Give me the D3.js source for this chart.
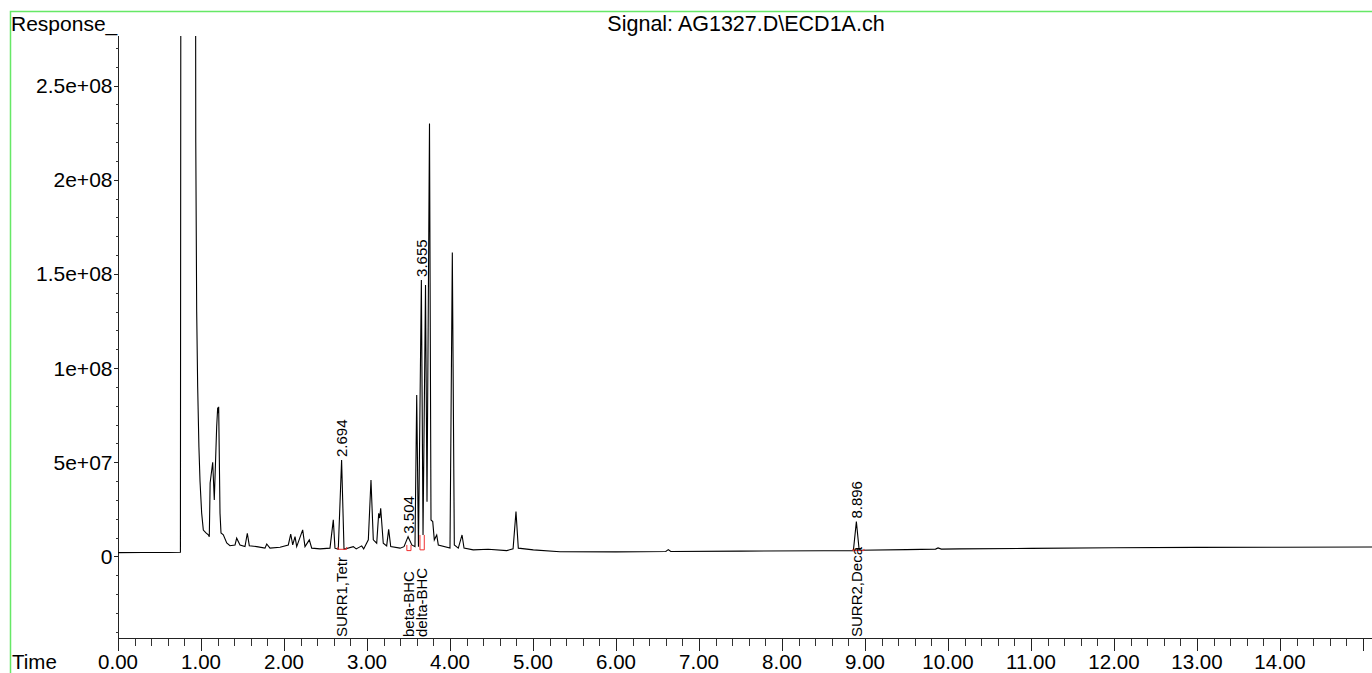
<!DOCTYPE html>
<html>
<head>
<meta charset="utf-8">
<script src="https://cdn.jsdelivr.net/npm/d3@7"></script>
<style>
  html, body { margin: 0; padding: 0; background: #fff; overflow: hidden; }
  svg { display: block; font-family: "Liberation Sans", Arial, sans-serif; }
</style>
</head>
<body>
<div id="chart"></div>
<script>
// retention time (min) and detector response
var traceTime = [0, 0.3, 0.6, 0.752, 0.760, 0.930, 0.937, 0.948, 0.960, 0.975, 0.988, 1.008, 1.028, 1.060, 1.088, 1.100,
  1.110, 1.141, 1.160, 1.189, 1.201, 1.207, 1.213, 1.229, 1.241, 1.269, 1.310, 1.349, 1.410, 1.430, 1.470, 1.530,
  1.558, 1.582, 1.671, 1.771, 1.792, 1.831, 1.952, 2.052, 2.081, 2.105, 2.133, 2.153, 2.225, 2.253, 2.305, 2.334,
  2.434, 2.554, 2.594, 2.614, 2.654, 2.694, 2.723, 2.835, 2.870, 2.936, 2.960, 3.016, 3.048, 3.076, 3.117, 3.141,
  3.153, 3.165, 3.196, 3.237, 3.261, 3.286, 3.398, 3.446, 3.495, 3.540, 3.578, 3.599, 3.620, 3.655, 3.675, 3.705,
  3.723, 3.753, 3.771, 3.792, 3.811, 3.840, 3.859, 4.000, 4.028, 4.052, 4.100, 4.145, 4.169, 4.280, 4.460, 4.683,
  4.760, 4.795, 4.823, 5.004, 5.325, 6.0, 6.6, 6.63, 6.66, 7.5, 8.5, 8.860, 8.896, 8.930, 9.5, 9.85, 9.88, 9.92,
  10.14, 11.0, 12.0, 13.0, 14.0, 15.5];
var traceResponse = [2.0e6, 2.1e6, 2.1e6, 2.2e6, 5.0e8, 5.0e8, 2.2e8, 1.3e8, 9.0e7, 5.8e7, 4.0e7, 2.3e7, 1.4e7, 1.25e7, 1.15e7, 1.05e7,
  3.9e7, 5.0e7, 3.0e7, 6.9e7, 7.9e7, 7.6e7, 7.95e7, 2.3e7, 1.25e7, 1.15e7, 7.2e6, 5.7e6, 6.1e6, 9.7e6, 6.1e6, 5.2e6,
  1.23e7, 5.7e6, 5.2e6, 4.4e6, 6.6e6, 4.4e6, 4.9e6, 6.1e6, 1.19e7, 6.1e6, 1.05e7, 5.2e6, 1.41e7, 5.2e6, 8.8e6, 4.4e6,
  4.0e6, 4.4e6, 1.94e7, 4.4e6, 3.8e6, 5.12e7, 3.8e6, 5.2e6, 4.0e6, 5.6e6, 4.0e6, 8.8e6, 4.06e7, 8.8e6, 7.0e6, 2.29e7,
  2.04e7, 2.56e7, 7.0e6, 5.6e6, 1.44e7, 5.2e6, 4.4e6, 5.2e6, 1.05e7, 6.1e6, 5.2e6, 8.57e7, 5.2e6, 1.468e8, 1.14e7, 1.441e8,
  2.91e7, 2.299e8, 1.94e7, 1.85e7, 8.8e6, 1.14e7, 6.1e6, 4.4e6, 1.613e8, 6.1e6, 4.4e6, 1.14e7, 4.4e6, 3.5e6, 3.8e6, 3.1e6,
  4.0e6, 2.38e7, 4.4e6, 3.5e6, 2.5e6, 2.4e6, 2.6e6, 3.6e6, 2.6e6, 2.8e6, 3.0e6, 3.1e6, 1.85e7, 3.3e6, 3.6e6, 3.9e6, 4.5e6, 3.9e6,
  4.0e6, 4.3e6, 4.6e6, 4.8e6, 4.9e6, 5.0e6];

// labelled peaks
var peakTimes = [2.694, 3.504, 3.655, 8.896];
var peakTops = [5.12e7, 1.05e7, 1.468e8, 1.85e7];
var peakLabels = ["2.694", "3.504", "3.655", "8.896"];
var compoundNames = ["SURR1,Tetr", "beta-BHC", "delta-BHC", "SURR2,Deca"];

// integration baselines (red)
var integStart = [2.650, 3.480, 3.638, 8.855];
var integEnd = [2.755, 3.530, 3.690, 8.988];
var integBase = [3.8e6, 3.1e6, 3.5e6, 3.1e6];
var integTick = [5.0e6, 6.1e6, 1.14e7, 4.0e6];

// axis ticks
var yTickValues = [0, 5e7, 1e8, 1.5e8, 2e8, 2.5e8];
var yTickLabels = ["0", "5e+07", "1e+08", "1.5e+08", "2e+08", "2.5e+08"];
var xTickValues = d3.range(0, 16, 1);
var xTickLabels = ["0.00", "1.00", "2.00", "3.00", "4.00", "5.00", "6.00", "7.00", "8.00", "9.00", "10.00", "11.00", "12.00", "13.00", "14.00"];

var width = 1372;
var height = 673;
var plotLeft = 118, plotTop = 36, plotBottom = 638;

var svg = d3.select('#chart')
  .append('svg')
  .attr('width', width)
  .attr('height', height);

//scales
var x = d3.scaleLinear().domain([0, 15.5]).range([plotLeft, plotLeft + 15.5 * 83]);
var y = d3.scaleLinear().domain([-4.33e7, 2.763e8]).range([plotBottom, plotTop]);

//green frame
svg.append('path')
  .attr('d', 'M10.5,' + height + 'V11.5H' + width)
  .attr('fill', 'none')
  .attr('stroke', '#66e866')
  .attr('stroke-width', 1.5);

//title and axis names
svg.append('text')
  .attr('x', 746)
  .attr('y', 31)
  .attr('text-anchor', 'middle')
  .style('font-size', '21.5px')
  .text('Signal: AG1327.D\\ECD1A.ch');
svg.append('text')
  .attr('x', 11)
  .attr('y', 31)
  .style('font-size', '21px')
  .text('Response_');
svg.append('text')
  .attr('x', 12)
  .attr('y', 669)
  .style('font-size', '20.5px')
  .text('Time');

//y axis
var yAxis = svg.append('g').attr('transform', 'translate(' + (plotLeft + 0.5) + ',0)');
yAxis.append('line')
  .attr('y1', plotTop).attr('y2', plotBottom)
  .attr('stroke', '#222').attr('shape-rendering', 'crispEdges');
yAxis.selectAll('.yminor')
  .data(d3.range(-4e7, 2.75e8, 1e7))
  .enter().append('line')
  .attr('x1', -3).attr('x2', 0)
  .attr('y1', function (d) { return Math.round(y(d)) + 0.5; })
  .attr('y2', function (d) { return Math.round(y(d)) + 0.5; })
  .attr('stroke', '#333').attr('shape-rendering', 'crispEdges');
yAxis.selectAll('.ymajor')
  .data(yTickValues)
  .enter().append('line')
  .attr('x1', -5).attr('x2', 0)
  .attr('y1', function (d) { return Math.round(y(d)) + 0.5; })
  .attr('y2', function (d) { return Math.round(y(d)) + 0.5; })
  .attr('stroke', '#222').attr('shape-rendering', 'crispEdges');
yAxis.selectAll('.ylab')
  .data(yTickValues)
  .enter().append('text')
  .attr('x', -6)
  .attr('y', function (d) { return y(d) + 7.5; })
  .attr('text-anchor', 'end')
  .style('font-size', '21px')
  .text(function (d, i) { return yTickLabels[i]; });

//x axis
var xAxis = svg.append('g').attr('transform', 'translate(0,' + (plotBottom + 0.5) + ')');
xAxis.append('line')
  .attr('x1', plotLeft).attr('x2', width)
  .attr('stroke', '#222').attr('shape-rendering', 'crispEdges');
xAxis.selectAll('.xminor')
  .data(d3.range(0, 15.2, 0.2))
  .enter().append('line')
  .attr('x1', function (d) { return Math.round(x(d)) + 0.5; })
  .attr('x2', function (d) { return Math.round(x(d)) + 0.5; })
  .attr('y1', 0).attr('y2', 7)
  .attr('stroke', '#333').attr('shape-rendering', 'crispEdges');
xAxis.selectAll('.xmajor')
  .data(xTickValues)
  .enter().append('line')
  .attr('x1', function (d) { return Math.round(x(d)) + 0.5; })
  .attr('x2', function (d) { return Math.round(x(d)) + 0.5; })
  .attr('y1', 0).attr('y2', 12)
  .attr('stroke', '#222').attr('shape-rendering', 'crispEdges');
xAxis.selectAll('.xlab')
  .data(xTickLabels)
  .enter().append('text')
  .attr('x', function (d, i) { return x(xTickValues[i]); })
  .attr('y', 30.5)
  .attr('text-anchor', 'middle')
  .style('font-size', '20.5px')
  .text(function (d) { return d; });

//clip for the trace
svg.append('clipPath').attr('id', 'plotClip')
  .append('rect')
  .attr('x', plotLeft).attr('y', plotTop)
  .attr('width', width - plotLeft).attr('height', plotBottom - plotTop);

//the chromatogram
var line = d3.line()
  .x(function (d, i) { return x(traceTime[i]); })
  .y(function (d) { return y(d); });
svg.append('path')
  .attr('clip-path', 'url(#plotClip)')
  .attr('d', line(traceResponse))
  .attr('fill', 'none')
  .attr('stroke', '#000')
  .attr('stroke-width', 1.1);

//integration marks
svg.selectAll('.integ')
  .data(integStart)
  .enter().append('path')
  .attr('d', function (d, i) {
    return 'M' + x(d) + ',' + y(integTick[i]) + 'V' + y(integBase[i]) +
      'H' + x(integEnd[i]) + 'V' + y(integTick[i]);
  })
  .attr('fill', 'none')
  .attr('stroke', '#f03030')
  .attr('stroke-width', 1);

//retention time labels above peaks
svg.selectAll('.rt')
  .data(peakTimes)
  .enter().append('text')
  .attr('transform', function (d, i) { return 'translate(' + x(d) + ',' + (y(peakTops[i]) - 3) + ') rotate(-90)'; })
  .attr('dy', '0.35em')
  .style('font-size', '15px')
  .text(function (d, i) { return peakLabels[i]; });

//compound names along the bottom
svg.selectAll('.cmp')
  .data(peakTimes)
  .enter().append('text')
  .attr('transform', function (d) { return 'translate(' + x(d) + ',' + (plotBottom - 1) + ') rotate(-90)'; })
  .attr('dy', '0.35em')
  .style('font-size', '15px')
  .text(function (d, i) { return compoundNames[i]; });
</script>
</body>
</html>
